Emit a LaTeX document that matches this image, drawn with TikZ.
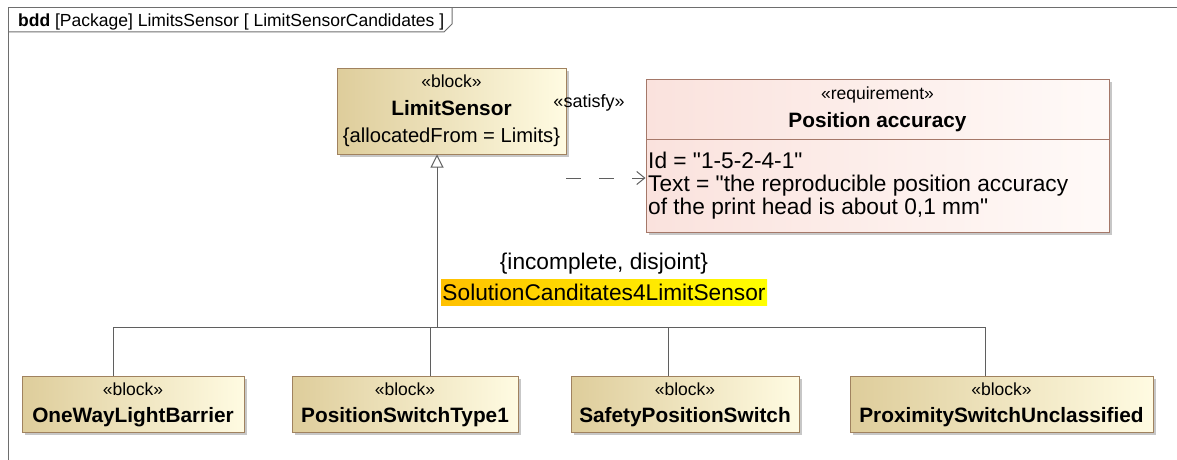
\documentclass[tikz,border=0pt]{standalone}
\usepackage{fontspec}
\setmainfont{Liberation Sans}[Ligatures=TeXOff]
\usetikzlibrary{arrows.meta,shadows}
\definecolor{blkL}{RGB}{222,205,155}
\definecolor{blkR}{RGB}{255,251,226}
\definecolor{blkB}{RGB}{160,130,95}
\definecolor{reqL}{RGB}{250,226,221}
\definecolor{reqR}{RGB}{255,250,248}
\definecolor{reqB}{RGB}{165,120,105}
\definecolor{lineC}{RGB}{95,95,95}
\definecolor{frameC}{RGB}{110,110,110}
\definecolor{hlL}{RGB}{255,192,0}
\definecolor{hlR}{RGB}{255,255,0}
\tikzset{
  shadowed/.style={drop shadow={shadow xshift=3pt, shadow yshift=-3pt, fill=black!22, opacity=1}},
  blockbox/.style={draw=blkB, line width=1pt, left color=blkL, right color=blkR, shadowed, minimum height=56pt, inner sep=0pt},
  reqbox/.style={draw=reqB, line width=1pt, left color=reqL, right color=reqR, shadowed, inner sep=0pt},
  txt/.style={inner sep=0pt, anchor=base, text=black},
  stereo/.style={txt, font=\fontsize{17.5}{20}\selectfont},
  bname/.style={txt, font=\fontsize{20.8}{24}\selectfont\bfseries},
  body/.style={txt, font=\fontsize{22.7}{26}\selectfont},
  conn/.style={draw=lineC, line width=1pt},
}
\begin{document}
\begin{tikzpicture}[x=1pt,y=-1pt]
\useasboundingbox (0,0) rectangle (1177,460);
% frame
\draw[frameC, line width=1pt] (8,460) -- (8,8) -- (1177,8);
\draw[frameC, line width=1pt] (8,32) -- (444,32) -- (452,24) -- (452,8);
\node[txt, anchor=base west, font=\fontsize{17.5}{20}\selectfont] (title) at (18,27) {\textbf{bdd} [Package] LimitsSensor [ LimitSensorCandidates ]};

% LimitSensor
\node[blockbox, minimum width=229pt, minimum height=86pt] (LS) at (451.5,111) {};
\node[stereo] (LSst) at (451.5,88) {«block»};
\node[bname] (LSname) at (451.5,115) {LimitSensor};
\node[txt, font=\fontsize{20.2}{24}\selectfont] (LSprop) at (451.5,142) {\{allocatedFrom = Limits\}};

% Requirement
\node[reqbox, minimum width=463pt, minimum height=153pt] (REQ) at (877.5,155.5) {};
\coordinate (sepL) at (646,139);
\draw[reqB, line width=1pt] (sepL) -- (sepL -| REQ.east);
\node[stereo] (REQst) at (877.5,99) {«requirement»};
\node[bname] (REQname) at (877.5,127) {Position accuracy};
\node[body, anchor=base west] (REQid) at (648,168) {Id = "1-5-2-4-1"};
\node[body, anchor=base west] (REQtx) at (648,191) {Text = "the reproducible position accuracy};
\node[body, anchor=base west] (REQtx2) at (648,214) {of the print head is about 0,1 mm"};

% satisfy
\node[inner sep=0pt, font=\fontsize{18}{20}\selectfont] (satlbl) at (589,103) {«satisfy»};
\coordinate (satS) at (566,178);
\draw[conn, dash pattern=on 15pt off 18pt, -{Straight Barb[length=8pt, width=13pt]}] (satS) -- (satS -| REQ.west);

% child blocks
\node[blockbox, minimum width=222pt] (OW) at (133,404) {};
\node[stereo] (OWst) at (133,395) {«block»};
\node[bname] (OWname) at (133,422) {OneWayLightBarrier};

\node[blockbox, minimum width=226pt] (PS) at (405,404) {};
\node[stereo] (PSst) at (405,395) {«block»};
\node[bname] (PSname) at (405,422) {PositionSwitchType1};

\node[blockbox, minimum width=228pt] (SP) at (685,404) {};
\node[stereo] (SPst) at (685,395) {«block»};
\node[bname] (SPname) at (685,422) {SafetyPositionSwitch};

\node[blockbox, minimum width=303pt] (PX) at (1001.5,404) {};
\node[stereo] (PXst) at (1001.5,395) {«block»};
\node[bname] (PXname) at (1001.5,422) {ProximitySwitchUnclassified};

% generalization set
\coordinate (J) at (437,327);
\draw[conn, -{Triangle[open, width=13pt, length=13pt]}] (J) -- (J |- LS.south);
\draw[conn] ([xshift=-20pt]OW.north) |- (J);
\draw[conn] ([xshift=25pt]PS.north) |- (J);
\draw[conn] ([xshift=-17pt]SP.north) |- (J);
\draw[conn] ([xshift=-16.5pt]PX.north) |- (J);

\node[body] (gsc) at (604,269) {\{incomplete, disjoint\}};
\node[inner sep=0pt, left color=hlL, right color=hlR, minimum width=326pt, minimum height=26pt, font=\fontsize{22.7}{26}\selectfont] (gsname) at (604,292) {SolutionCanditates4LimitSensor};
\end{tikzpicture}
\end{document}
